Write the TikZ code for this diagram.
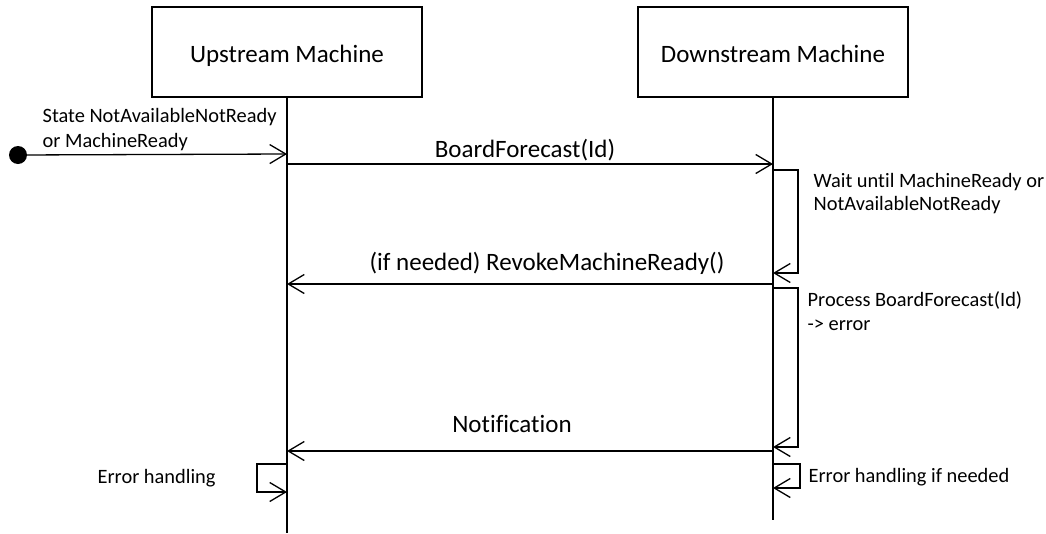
\documentclass[tikz,border=0pt]{standalone}
\usepackage{fontspec}
\setmainfont{Carlito}[Ligatures=NoCommon]
\usetikzlibrary{arrows.meta}
\begin{document}
\begin{tikzpicture}[x=1pt,y=-1pt,
  every path/.style={line width=1.3pt},
  obj/.style={draw,line width=1.3pt,minimum width=270pt,minimum height=90pt,inner sep=0pt,text height=20pt,text depth=0pt,font=\fontsize{25}{30}\selectfont},
  msg/.style={-{Straight Barb[length=16pt,width=19pt,line width=1.3pt]}},
  lbl/.style={font=\fontsize{25}{30}\selectfont,inner sep=0pt,anchor=base},
  note/.style={font=\fontsize{20.4}{24}\selectfont,inner sep=0pt,anchor=base west}]
\useasboundingbox (0,0) rectangle (1046,533);
% objects
\node[obj] (up) at (287,52) {Upstream Machine};
\node[obj] (dn) at (773,52) {Downstream Machine};
\coordinate (upend) at (287,533);
\coordinate (dnend) at (773,520);
\draw (up.south) -- (upend);
\draw (dn.south) -- (dnend);
% start
\node[circle,fill=black,minimum size=18pt,inner sep=0pt] (start) at (18,155) {};
\coordinate (u0) at (287,154);
\draw[msg] (start.center) -- (u0);
\node[note] (t0a) at (42,122) {State NotAvailableNotReady};
\node[note] (t0b) at (42,147) {or MachineReady};
% BoardForecast
\coordinate (u1) at (287,164);
\coordinate (d1) at (773,164);
\draw[msg] (u1) -- (d1);
\node[lbl] (l1) at (525,157) {BoardForecast(Id)};
% wait loop
\coordinate (d2a) at (773,170);
\coordinate (d2b) at (773,273);
\draw[msg] (d2a) -- (798,170) -- (798,273) -- (d2b);
\node[note] (t2a) at (813,187) {Wait until MachineReady or};
\node[note] (t2b) at (813,210) {NotAvailableNotReady};
% Revoke
\coordinate (d3) at (773,284);
\coordinate (u3) at (287,284);
\draw[msg] (d3) -- (u3);
\node[lbl] (l3) at (547,270) {(if needed) RevokeMachineReady()};
% process loop
\coordinate (d4a) at (773,288);
\coordinate (d4b) at (773,447);
\draw[msg] (d4a) -- (798,288) -- (798,447) -- (d4b);
\node[note] (t4a) at (807,306) {Process BoardForecast(Id)};
\node[note] (t4b) at (807,330) {-> error};
% Notification
\coordinate (d5) at (773,451);
\coordinate (u5) at (287,451);
\draw[msg] (d5) -- (u5);
\node[lbl] (l5) at (512,432) {Notification};
% error handling downstream
\coordinate (d6a) at (773,464);
\coordinate (d6b) at (773,488);
\draw[msg] (d6a) -- (800,464) -- (800,488) -- (d6b);
\node[note] (t6) at (808,482) {Error handling if needed};
% error handling upstream
\coordinate (u7a) at (287,464);
\coordinate (u7b) at (287,492);
\draw[msg] (u7a) -- (257,464) -- (257,492) -- (u7b);
\node[note] (t7) at (97,483) {Error handling};
\end{tikzpicture}
\end{document}
